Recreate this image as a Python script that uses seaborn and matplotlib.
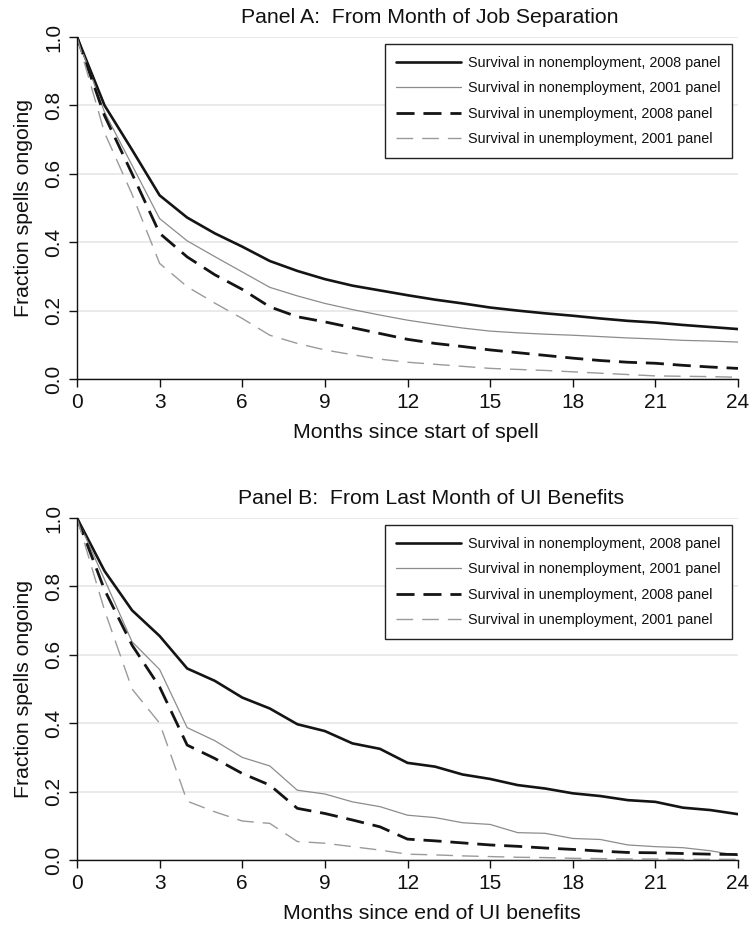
import matplotlib
matplotlib.use("Agg")
import matplotlib.pyplot as plt
import seaborn as sns
import pandas as pd

months = list(range(0, 25))

# Panel A: from month of job separation
a_nonemp_2008 = [1.0, 0.80, 0.67, 0.537, 0.472, 0.426, 0.387, 0.345, 0.316, 0.292, 0.273, 0.259, 0.245,
                 0.232, 0.221, 0.209, 0.200, 0.192, 0.185, 0.177, 0.170, 0.165, 0.158, 0.152, 0.146]
a_nonemp_2001 = [1.0, 0.78, 0.625, 0.469, 0.404, 0.358, 0.313, 0.268, 0.243, 0.221, 0.203, 0.187, 0.172,
                 0.160, 0.149, 0.140, 0.135, 0.131, 0.128, 0.124, 0.120, 0.117, 0.113, 0.111, 0.108]
a_unemp_2008 = [1.0, 0.77, 0.60, 0.426, 0.357, 0.305, 0.262, 0.211, 0.182, 0.167, 0.150, 0.133, 0.116,
                0.104, 0.095, 0.085, 0.077, 0.069, 0.061, 0.054, 0.049, 0.046, 0.040, 0.035, 0.031]
a_unemp_2001 = [1.0, 0.72, 0.54, 0.338, 0.270, 0.222, 0.177, 0.128, 0.104, 0.085, 0.071, 0.058, 0.049,
                0.043, 0.037, 0.031, 0.028, 0.025, 0.021, 0.017, 0.013, 0.009, 0.008, 0.007, 0.005]

# Panel B: from last month of UI benefits
b_nonemp_2008 = [1.0, 0.845, 0.73, 0.655, 0.56, 0.524, 0.475, 0.443, 0.397, 0.377, 0.341, 0.325, 0.284,
                 0.273, 0.250, 0.237, 0.219, 0.209, 0.195, 0.187, 0.175, 0.170, 0.153, 0.146, 0.134]
b_nonemp_2001 = [1.0, 0.82, 0.638, 0.557, 0.387, 0.349, 0.300, 0.275, 0.204, 0.193, 0.170, 0.156, 0.131,
                 0.124, 0.109, 0.104, 0.080, 0.078, 0.063, 0.060, 0.044, 0.039, 0.036, 0.027, 0.013]
b_unemp_2008 = [1.0, 0.79, 0.628, 0.506, 0.336, 0.297, 0.253, 0.219, 0.151, 0.136, 0.117, 0.097, 0.061,
                0.056, 0.050, 0.044, 0.040, 0.035, 0.031, 0.026, 0.022, 0.021, 0.019, 0.017, 0.016]
b_unemp_2001 = [1.0, 0.73, 0.50, 0.40, 0.172, 0.141, 0.114, 0.107, 0.054, 0.049, 0.039, 0.029, 0.017,
                0.015, 0.012, 0.010, 0.008, 0.007, 0.005, 0.004, 0.003, 0.003, 0.002, 0.002, 0.002]

series_labels = ["Survival in nonemployment, 2008 panel",
                 "Survival in nonemployment, 2001 panel",
                 "Survival in unemployment, 2008 panel",
                 "Survival in unemployment, 2001 panel"]

panel_titles = ["Panel A:  From Month of Job Separation", "Panel B:  From Last Month of UI Benefits"]
x_labels = ["Months since start of spell", "Months since end of UI benefits"]
y_label = "Fraction spells ongoing"
x_ticks = [0, 3, 6, 9, 12, 15, 18, 21, 24]
y_ticks = [0.0, 0.2, 0.4, 0.6, 0.8, 1.0]

sns.set_style("white")
plt.rcParams["font.family"] = ["Liberation Sans", "DejaVu Sans"]

styles = [
    dict(color="#141414", linewidth=1.9, linestyle="-"),
    dict(color="#8c8c8c", linewidth=0.9, linestyle="-"),
    dict(color="#141414", linewidth=2.0, linestyle=(0, (6.5, 3.2))),
    dict(color="#9a9a9a", linewidth=1.0, linestyle=(0, (12, 6.5))),
]

fig = plt.figure(figsize=(7.5, 9.26), dpi=100)
ax_a = fig.add_axes([77 / 750, 1 - 379 / 926, 661 / 750, 342 / 926])
ax_b = fig.add_axes([77 / 750, 1 - 860 / 926, 661 / 750, 342 / 926])

panels = [
    (ax_a, [a_nonemp_2008, a_nonemp_2001, a_unemp_2008, a_unemp_2001], 0.534, 0.513),
    (ax_b, [b_nonemp_2008, b_nonemp_2001, b_unemp_2008, b_unemp_2001], 0.536, 0.537),
]

for i, (ax, data, tx, lx) in enumerate(panels):
    df = pd.DataFrame({"month": months})
    for lab, vals in zip(series_labels, data):
        df[lab] = vals
    for j, lab in enumerate(series_labels):
        sns.lineplot(data=df, x="month", y=lab, ax=ax, label=lab, **styles[j])
    ax.set_xlim(0, 24)
    ax.set_ylim(0, 1)
    ax.set_xticks(x_ticks)
    ax.set_yticks(y_ticks)
    ax.set_yticklabels([f"{v:.1f}" for v in y_ticks], rotation=90, va="center")
    ax.yaxis.grid(True, color="#e6e6e6", linewidth=1.2)
    ax.xaxis.grid(False)
    ax.set_axisbelow(True)
    for s in ["top", "right"]:
        ax.spines[s].set_visible(False)
    for s in ["left", "bottom"]:
        ax.spines[s].set_color("#111111")
        ax.spines[s].set_linewidth(1.0)
    ax.tick_params(axis="both", which="major", direction="out", length=6, width=1.0,
                   color="#111111", labelsize=15, pad=4, labelcolor="#111111",
                   left=True, bottom=True)
    ax.set_xlabel(x_labels[i], fontsize=15.3, color="#111111")
    ax.set_ylabel(y_label, fontsize=15.3, color="#111111")
    ax.xaxis.set_label_coords(lx, -0.128)
    ax.yaxis.set_label_coords(-0.066, 0.5)
    ax.text(tx, 1.058, panel_titles[i], transform=ax.transAxes, ha="center", va="center",
            fontsize=15.3, color="#111111")
    leg = ax.legend(loc="upper right", bbox_to_anchor=(0.991, 0.9795), fontsize=10.4,
                    frameon=True, fancybox=False, framealpha=1, edgecolor="#222222",
                    handlelength=4.5, handletextpad=0.45, labelspacing=0.8,
                    borderpad=0.8, borderaxespad=0)
    leg.get_frame().set_linewidth(1.0)
    for t in leg.get_texts():
        t.set_color("#111111")

fig.savefig("out.png", dpi=100, facecolor="white")
